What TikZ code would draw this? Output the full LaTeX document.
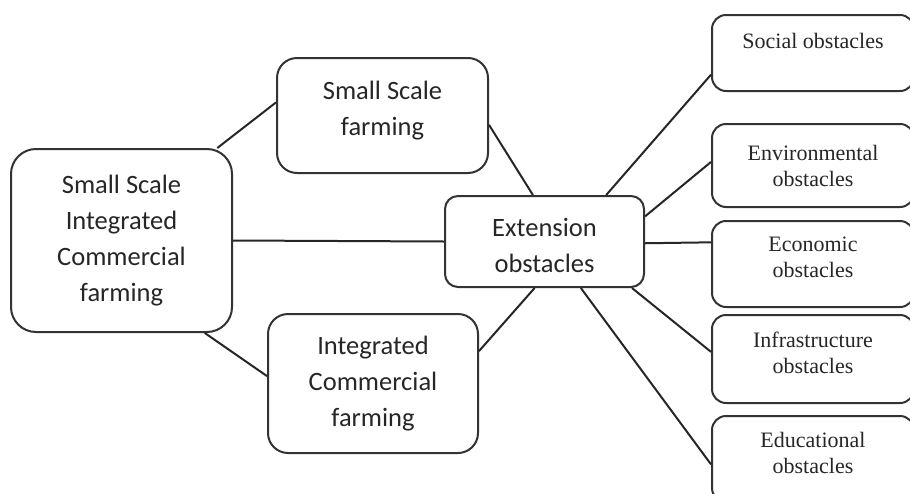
\documentclass[tikz,border=0pt]{standalone}
\usepackage{fontspec}
\setmainfont{Liberation Serif}
\newfontfamily\calfont{Carlito}
\usetikzlibrary{positioning,calc}

\begin{document}
\begin{tikzpicture}[
    x=1pt, y=-1pt,
    farmbox/.style={rectangle, rounded corners=20pt, draw=black!80, line width=2pt,
                    align=center, font=\calfont\fontsize{26.5}{36}\selectfont, text=black!85},
    obstbox/.style={rectangle, rounded corners=14pt, draw=black!80, line width=2pt,
                    minimum width=202pt, align=center,
                    font=\fontsize{22}{26}\selectfont, text=black!85},
    link/.style={line width=2pt, draw=black!85}
]
\useasboundingbox (0,0) rectangle (910,493);
\clip (0,0) rectangle (910,493);

% Nodes
\node[farmbox, rounded corners=25pt, minimum width=221pt, minimum height=183pt] (whole) at (121.5,240.5)
    {Small Scale\\Integrated\\Commercial\\farming};
\node[farmbox, minimum width=211pt, minimum height=115pt, text depth=14pt] (small) at (382.5,115.5)
    {Small Scale\\farming};
\node[farmbox, minimum width=210pt, minimum height=139pt] (integ) at (373,383.5)
    {Integrated\\Commercial\\farming};
\node[farmbox, rounded corners=13pt, minimum width=199pt, minimum height=91pt, inner sep=0pt] (ext) at (544.5,241.5)
    {\rule{0pt}{26pt}Extension\\obstacles};

\node[obstbox, minimum height=76pt, text depth=25pt] (social) at (813,53) {Social obstacles};
\node[obstbox, minimum height=83pt] (env) at (813,165.5) {Environmental\\obstacles};
\node[obstbox, minimum height=86pt, text depth=14pt] (econ) at (813,264) {Economic\\obstacles};
\node[obstbox, minimum height=88pt, text depth=13pt] (infra) at (813,359) {Infrastructure\\obstacles};
\node[obstbox, minimum height=86pt, text depth=13pt] (edu) at (813,459) {Educational\\obstacles};

% Lines
\draw[link] (whole.44) -- (small.173);
\draw[link] (whole.east) -- (ext.west);
\draw[link] (whole.-48) -- (integ.176);
\draw[link] (small.-5) -- (ext.104);
\draw[link] (integ.17) -- (ext.-102);

\draw[link] (ext.37) -- (social.192);
\draw[link] (ext.14) -- (env.178);
\draw[link] (ext.-1) -- (econ.168);
\draw[link] (ext.-28) -- (infra.176);
\draw[link] (ext.-52) -- (edu.183);

\end{tikzpicture}
\end{document}
